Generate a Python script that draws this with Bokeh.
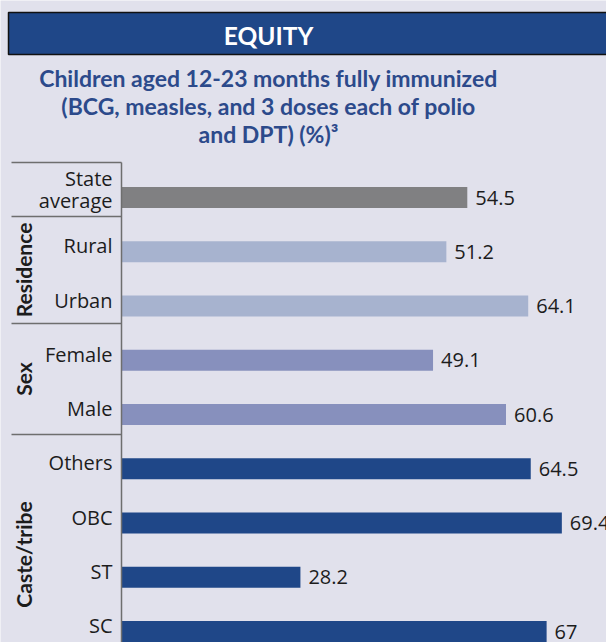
import math
from bokeh.plotting import figure
from bokeh.models import Range1d, ColumnDataSource
from bokeh.core.properties import value
from bokeh.embed import file_html
from bokeh.resources import INLINE

# ---- data ----
categories = ["State\naverage", "Rural", "Urban", "Female", "Male", "Others", "OBC", "ST", "SC"]
values = [54.5, 51.2, 64.1, 49.1, 60.6, 64.5, 69.4, 28.2, 67.0]
value_labels = ["54.5", "51.2", "64.1", "49.1", "60.6", "64.5", "69.4", "28.2", "67"]
groups = ["Residence", "Sex", "Caste/tribe"]
header_text = "EQUITY"
subtitle_lines = ["Children aged 12-23 months fully immunized",
                  "(BCG, measles, and 3 doses each of polio",
                  "and DPT) (%)\u00b3"]

# ---- styles ----
BG = "#e1e1ec"
HEADER = "#1f4788"
TITLE_C = "#2c4a8b"
TXT = "#1c1c1c"
LINE_C = "#6e6e6e"
bar_colors = ["#808082", "#a7b3cf", "#a7b3cf", "#8790bd", "#8790bd",
              "#1f4788", "#1f4788", "#1f4788", "#1f4788"]
label_offsets = [-8, -6, -6, -6, -6, -6, -6, -6, -6]
BOLD_FONT = value("Lato")
REG_FONT = value("Open Sans")

W, H = 606, 642
PX = 6.345          # pixels per percentage point
ZERO_X = 121        # pixel position of 0
SLOT = 54.25        # pixels per category
FIRST_Y = 197       # pixel centre of first category


def dx(px):
    return (px - ZERO_X) / PX


def dy(py):
    return (py - FIRST_Y) / SLOT


p = figure(width=W, height=H, output_backend="svg", toolbar_location=None,
           x_range=Range1d(dx(0), dx(W)), y_range=Range1d(dy(H), dy(0)),
           min_border=0, background_fill_color=BG, border_fill_color=BG,
           outline_line_color=None)
p.axis.visible = False
p.grid.visible = False

# header band
p.quad(left=[dx(8)], right=[dx(W + 20)], top=[dy(12)], bottom=[dy(54)],
       fill_color=HEADER, line_color="#111111", line_width=1.5)
p.text(x=[dx(268)], y=[dy(34.5)], text=[header_text], text_align="center",
       text_baseline="middle", text_font=BOLD_FONT, text_font_style="bold",
       text_font_size="24.5px", text_color="white")

# subtitle
sub_y = [dy(77), dy(105), dy(133)]
p.text(x=[dx(268)] * 3, y=sub_y, text=subtitle_lines, text_align="center",
       text_baseline="middle", text_font=BOLD_FONT, text_font_style="bold",
       text_font_size="23px", text_color=TITLE_C)

# bars
idx = list(range(len(categories)))
p.hbar(y=idx, left=0, right=values, height=21 / SLOT, fill_color=bar_colors,
       line_color=None)

# value labels
p.text(x=values, y=idx, text=value_labels, x_offset=8, text_baseline="middle",
       text_font=REG_FONT, text_font_size="20px", text_color=TXT)

# category labels
cat_src = ColumnDataSource(dict(x=[dx(112)] * len(categories), y=idx,
                                text=categories, yo=label_offsets))
p.text(x="x", y="y", text="text", y_offset="yo", source=cat_src,
       text_align="right", text_baseline="middle", text_font=REG_FONT,
       text_font_size="20px", text_color=TXT, text_line_height=0.8)

# axis line and group separators
sep_px = [162, 216, 323, 434]
p.segment(x0=[0], y0=[dy(162)], x1=[0], y1=[dy(H + 10)], line_color=LINE_C,
          line_width=1.5)
p.segment(x0=[dx(11)] * 4, y0=[dy(s) for s in sep_px], x1=[0] * 4,
          y1=[dy(s) for s in sep_px], line_color=LINE_C, line_width=1.5)

# group labels (rotated)
grp_centers = [dy((216 + 323) / 2), dy((323 + 434) / 2), dy(554)]
p.text(x=[dx(22.5)] * 3, y=grp_centers, text=groups, angle=math.pi / 2,
       text_align="center", text_baseline="middle", text_font=BOLD_FONT,
       text_font_style="bold", text_font_size="21px", text_color=TXT)

open("out.html", "w").write(file_html(p, INLINE))
